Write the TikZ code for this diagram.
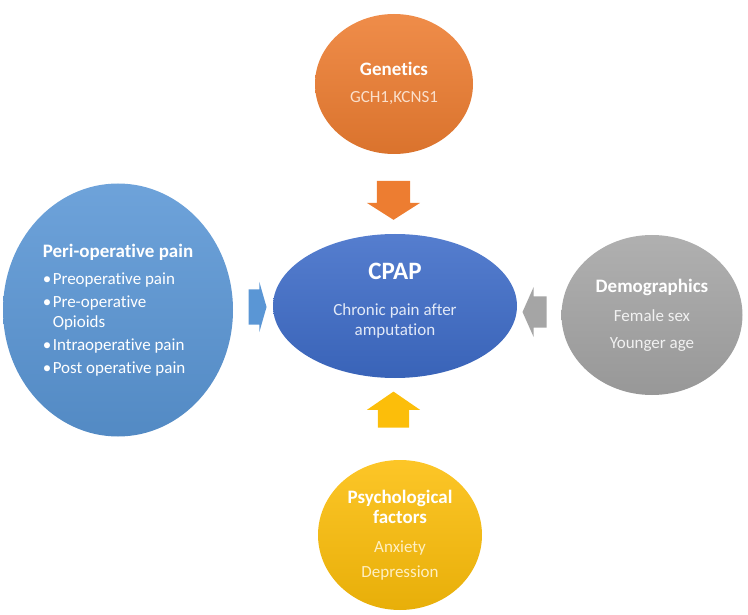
\documentclass[tikz,border=0pt]{standalone}
\usepackage{fontspec}
\setmainfont{Carlito}[Ligatures={NoCommon}]
\usetikzlibrary{shapes.geometric,shapes.arrows}

\definecolor{periblue}{RGB}{90,150,213}
\definecolor{cpapblue}{RGB}{62,108,200}
\definecolor{genorange}{RGB}{237,125,49}
\definecolor{demogray}{RGB}{165,165,165}
\definecolor{psychyellow}{RGB}{252,190,10}

\tikzset{
  bubble/.style={ellipse, inner sep=0pt, outer sep=0pt,
    top color=#1!88!white, bottom color=#1!92!black},
  bubbletext/.style={text=white, align=center, inner sep=0pt,
    font=\fontsize{17}{20}\selectfont},
  blockarrow/.style={single arrow, fill=#1, inner xsep=0pt, outer sep=0pt}
}
\newcommand{\titlefont}{\fontsize{19}{21}\selectfont\bfseries}

\begin{document}
\begin{tikzpicture}[x=1pt,y=-1pt]
\useasboundingbox (0,0) rectangle (748,615);

% the five bubbles
\node[bubble=cpapblue, minimum width=244pt, minimum height=144pt] (cpap) at (395,306) {};
\node[bubble=genorange, minimum width=158pt, minimum height=140pt] (gen) at (394,84) {};
\node[bubble=periblue, minimum width=230pt, minimum height=253pt] (peri) at (118,310) {};
\node[bubble=demogray, minimum width=181pt, minimum height=160pt] (demo) at (652,315) {};
\node[bubble=psychyellow, minimum width=164pt, minimum height=150pt] (psych) at (400,535) {};

% texts
\node[bubbletext, yshift=5pt] (cpaptext) at (cpap.center) {%
  {\fontsize{25}{27}\selectfont\bfseries CPAP}\\[16pt]
  \textcolor{white!85!cpapblue}{Chronic pain after}\\
  \textcolor{white!85!cpapblue}{amputation}};
\node[bubbletext, yshift=1pt] (gentext) at (gen.center) {%
  {\titlefont Genetics}\\[7pt]
  \textcolor{white!75!genorange}{GCH1,KCNS1}};
\node[bubbletext, align=left] (peritext) at (peri.center) {%
  {\titlefont Peri-operative pain}\\[7pt]
  \makebox[10pt][l]{\textbullet}Preoperative pain\\[3pt]
  \makebox[10pt][l]{\textbullet}Pre-operative\\
  \makebox[10pt][l]{}Opioids\\[3pt]
  \makebox[10pt][l]{\textbullet}Intraoperative pain\\[3pt]
  \makebox[10pt][l]{\textbullet}Post operative pain};
\node[bubbletext] (demotext) at (demo.center) {%
  {\titlefont Demographics}\\[9pt]
  \textcolor{white!85!demogray}{Female sex}\\[7pt]
  \textcolor{white!85!demogray}{Younger age}};
\node[bubbletext] (psychtext) at (psych.center) {%
  {\titlefont Psychological}\\
  {\titlefont factors}\\[9pt]
  \textcolor{white!75!psychyellow}{Anxiety}\\[5pt]
  \textcolor{white!75!psychyellow}{Depression}};

% block arrows pointing to CPAP
\node[blockarrow=genorange, rotate=-90, minimum height=39pt, inner ysep=16.5pt,
  single arrow head extend=10pt, single arrow tip angle=115] (arrgen) at (393.5,195) {};
\node[blockarrow=periblue, minimum height=18pt, inner ysep=17.5pt,
  single arrow head extend=7.5pt, single arrow tip angle=148] (arrperi) at (255,307) {};
\node[blockarrow=demogray, rotate=180, minimum height=24pt, inner ysep=15.5pt,
  single arrow head extend=9.5pt, single arrow tip angle=132] (arrdemo) at (538,312) {};
\node[blockarrow=psychyellow, rotate=90, minimum height=36pt, inner ysep=15.5pt,
  single arrow head extend=11pt, single arrow tip angle=111] (arrpsych) at (393.5,415) {};
\end{tikzpicture}
\end{document}
